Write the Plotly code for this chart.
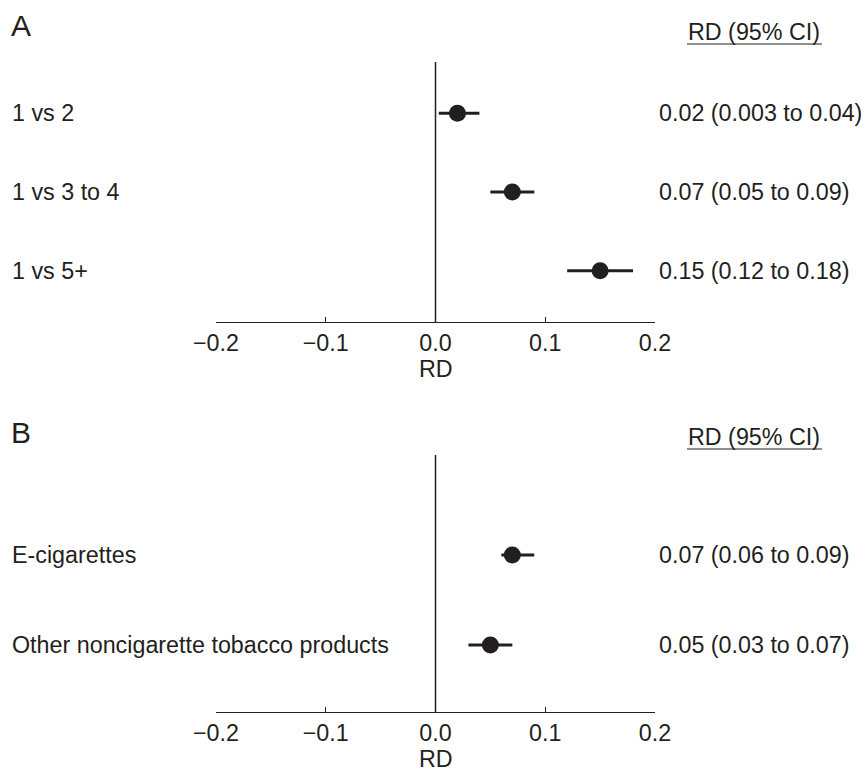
import plotly.graph_objects as go

# Panel A data
a_labels = ["1 vs 2", "1 vs 3 to 4", "1 vs 5+"]
a_est = [0.02, 0.07, 0.15]
a_lo = [0.003, 0.05, 0.12]
a_hi = [0.04, 0.09, 0.18]
a_text = ["0.02 (0.003 to 0.04)", "0.07 (0.05 to 0.09)", "0.15 (0.12 to 0.18)"]

# Panel B data
b_labels = ["E-cigarettes", "Other noncigarette tobacco products"]
b_est = [0.07, 0.05]
b_lo = [0.06, 0.03]
b_hi = [0.09, 0.07]
b_text = ["0.07 (0.06 to 0.09)", "0.05 (0.03 to 0.07)"]

x_ticks = [-0.2, -0.1, 0.0, 0.1, 0.2]
x_ticklabels = ["\u22120.2", "\u22120.1", "0.0", "0.1", "0.2"]
x_title = "RD"

INK = "#231f20"
FONT = "Liberation Sans, Arial, Helvetica, sans-serif"
FS = 23.3
W, H = 865, 772

fig = go.Figure()

def add_panel(labels, est, lo, hi, xa, ya):
    n = len(labels)
    ys = list(range(n, 0, -1))
    fig.add_trace(go.Scatter(
        x=est, y=ys, mode="markers",
        marker=dict(size=17, color=INK),
        error_x=dict(type="data", symmetric=False,
                     array=[h - e for h, e in zip(hi, est)],
                     arrayminus=[e - l for e, l in zip(est, lo)],
                     thickness=3, width=0, color=INK),
        xaxis=xa, yaxis=ya, showlegend=False, hoverinfo="skip"))
    return ys

ysA = add_panel(a_labels, a_est, a_lo, a_hi, "x", "y")
ysB = add_panel(b_labels, b_est, b_lo, b_hi, "x2", "y2")

xdom = [216 / W, 655 / W]
xcommon = dict(range=[-0.2, 0.2], tickvals=x_ticks, ticktext=x_ticklabels,
               showline=True, linecolor=INK, linewidth=1.3,
               ticks="inside", ticklen=5, tickwidth=1.3, tickcolor=INK,
               showgrid=False, zeroline=False, automargin=False,
               tickfont=dict(size=FS, color=INK, family=FONT),
               domain=xdom)
ycommon = dict(showgrid=False, zeroline=False, showline=False, showticklabels=False,
               ticks="", automargin=False)

fig.update_layout(
    width=W, height=H, margin=dict(l=0, r=0, t=0, b=0, pad=0, autoexpand=False),
    plot_bgcolor="white", paper_bgcolor="white",
    font=dict(family=FONT, color=INK, size=FS),
    xaxis=dict(anchor="y", **xcommon),
    yaxis=dict(domain=[1 - 322 / H, 1 - 62 / H], range=[0.35, 3.65], anchor="x", **ycommon),
    xaxis2=dict(anchor="y2", **xcommon),
    yaxis2=dict(domain=[1 - 712 / H, 1 - 455 / H], range=[0.256, 3.111], anchor="x2", **ycommon),
)

# reference lines at zero
for xr, yr in [("x", "y domain"), ("x2", "y2 domain")]:
    fig.add_shape(type="line", xref=xr, yref=yr, x0=0, x1=0, y0=0, y1=1,
                  line=dict(color=INK, width=1.5), layer="below")

ann = []
def panel_text(labels, texts, ys, yref):
    for lab, t, y in zip(labels, texts, ys):
        ann.append(dict(text=lab, x=10 / W, xref="paper", y=y, yref=yref,
                        xanchor="left", yanchor="middle", showarrow=False,
                        font=dict(size=FS, color=INK, family=FONT)))
        ann.append(dict(text=t, x=657 / W, xref="paper", y=y, yref=yref,
                        xanchor="left", yanchor="middle", showarrow=False,
                        font=dict(size=FS, color=INK, family=FONT)))

panel_text(a_labels, a_text, ysA, "y")
panel_text(b_labels, b_text, ysB, "y2")

# axis titles
for xr, ypx in [("x", 369), ("x2", 759)]:
    ann.append(dict(text=x_title, x=0, xref=xr, y=1 - ypx / H, yref="paper",
                    xanchor="center", yanchor="middle", showarrow=False,
                    font=dict(size=FS, color=INK, family=FONT)))

# panel letters and column headers
for letter, ypx, hy in [("A", 25, 32), ("B", 432, 437)]:
    ann.append(dict(text=letter, x=9 / W, xref="paper", y=1 - ypx / H, yref="paper",
                    xanchor="left", yanchor="middle", showarrow=False,
                    font=dict(size=30, color=INK, family=FONT)))
    ann.append(dict(text="RD (95% CI)", x=754 / W, xref="paper", y=1 - hy / H, yref="paper",
                    xanchor="center", yanchor="middle", showarrow=False,
                    font=dict(size=FS, color=INK, family=FONT)))
    fig.add_shape(type="line", xref="paper", yref="paper",
                  x0=687 / W, x1=822 / W, y0=1 - (hy + 12) / H, y1=1 - (hy + 12) / H,
                  line=dict(color=INK, width=1.2))

fig.update_layout(annotations=ann)
fig.write_html("out.html", config={"displayModeBar": False},
               post_script="document.body.style.margin='0';document.body.style.overflow='hidden';")
